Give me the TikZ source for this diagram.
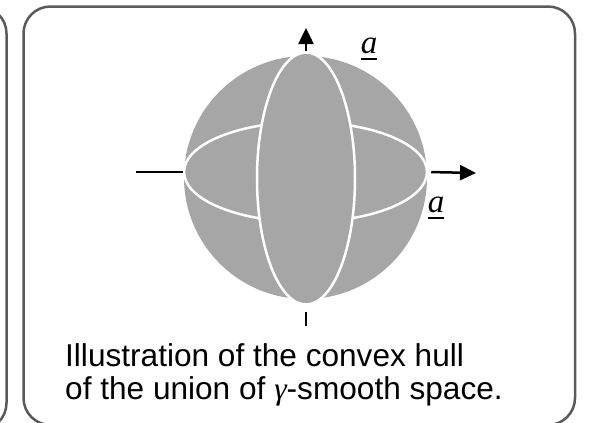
\documentclass[tikz,border=0pt]{standalone}
\usepackage{fontspec}
\setmainfont{Liberation Sans}
\newfontfamily\lblfont{Liberation Serif}
\usetikzlibrary{arrows.meta,shapes.geometric}
\definecolor{boxgray}{RGB}{90,90,90}
\definecolor{ballgray}{RGB}{166,166,166}
\newcommand\ulbox[1]{\setbox0\hbox{#1}\vtop{\copy0\kern4.5pt\hrule height 2pt width \wd0}}
\begin{document}
\begin{tikzpicture}[x=1pt,y=-1pt,
  frame/.style={draw=boxgray,line width=2.5pt,rounded corners=27pt},
  axis/.style={line width=2.5pt,black},
  arr/.style={axis,-{Triangle[length=16pt,width=15pt]}},
  seam/.style={draw=white,line width=2.5pt,inner sep=0pt},
  lab/.style={font=\fontsize{33}{36}\selectfont\lblfont\itshape,inner sep=0pt,anchor=base},
  txt/.style={font=\fontsize{31.6}{36}\selectfont,inner sep=0pt,anchor=base west}]
\useasboundingbox (0,0) rectangle (590,423);
\draw[frame] (-100,6.5) rectangle (6.5,430);
\draw[frame] (23.5,6.5) rectangle (575,425);
% ball
\node[circle,fill=ballgray,minimum size=243pt,inner sep=0pt] (ball) at (305.5,177.5) {};
\node[ellipse,seam,minimum width=243pt,minimum height=100pt] (hring) at (305.5,172) {};
\node[ellipse,seam,fill=ballgray,minimum width=98pt,minimum height=252pt] (vring) at (306,178.5) {};
% axes
\coordinate (topend) at (306,28);
\coordinate (leftend) at (136,172);
\coordinate (rightend) at (476,173);
\coordinate (botend) at (306,326);
\draw[arr] (vring.north) -- (topend);
\draw[axis] (leftend) -- (hring.west);
\draw[arr,shorten <=3pt] (hring.east) -- (rightend);
\draw[axis,shorten <=6pt] (vring.south) -- (botend);
% labels
\node[lab] (atop) at (369,53) {\ulbox{a}};
\node[lab] (aright) at (436,212) {\ulbox{a}};
\node[txt] (line1) at (65,366) {Illustration of the convex hull};
\node[txt] (line2) at (65,399) {of the union of {\lblfont\itshape γ}-smooth space.};
\end{tikzpicture}
\end{document}
